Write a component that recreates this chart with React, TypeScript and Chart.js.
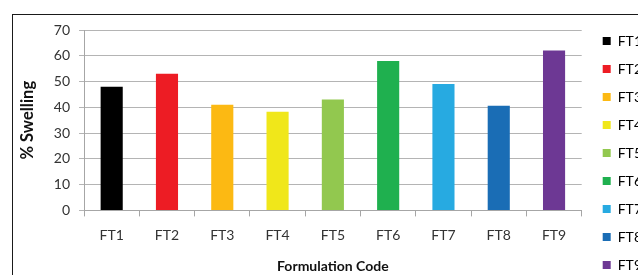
import { useEffect, useRef } from "react";
import { Chart, registerables } from "chart.js";

Chart.register(...registerables);

const categories = ["FT1", "FT2", "FT3", "FT4", "FT5", "FT6", "FT7", "FT8", "FT9"];
const swelling = [48, 53, 41, 38.3, 43, 58, 49, 40.6, 62];
const barColors = ["#000000", "#ed1c24", "#fcb913", "#f0e71a", "#92c84f", "#1fb04f", "#27aae1", "#1a6db5", "#6d3894"];
const yMin = 0;
const yMax = 70;
const yStep = 10;
const yAxisTitle = "% Swelling";
const xAxisTitle = "Formulation Code";

const FONT = "Lato, 'Noto Sans', sans-serif";

export default function App() {
  const ref = useRef<HTMLCanvasElement | null>(null);

  useEffect(() => {
    if (!ref.current) return;
    const chart = new Chart(ref.current, {
      type: "bar",
      data: {
        labels: categories,
        datasets: [
          {
            data: swelling,
            backgroundColor: barColors,
            borderWidth: 0,
            barPercentage: 0.4,
            categoryPercentage: 1,
          },
        ],
      },
      options: {
        responsive: false,
        animation: false,
        devicePixelRatio: 1,
        layout: { padding: { left: 18, top: 20, right: 0, bottom: 0 } },
        plugins: {
          tooltip: { enabled: false },
          legend: {
            display: true,
            position: "right",
            align: "start",
            labels: {
              boxWidth: 8,
              boxHeight: 8,
              padding: 14,
              color: "#222",
              font: { family: FONT, size: 14 },
              generateLabels: () =>
                categories.map((c, i) => ({
                  text: c,
                  fillStyle: barColors[i],
                  strokeStyle: barColors[i],
                  lineWidth: 0,
                  hidden: false,
                  index: i,
                  datasetIndex: 0,
                })),
            },
          },
        },
        scales: {
          x: {
            offset: true,
            grid: {
              display: true,
              drawOnChartArea: false,
              drawTicks: true,
              tickLength: 6,
              offset: true,
              color: "#a6a6a6",
            },
            border: { display: true, color: "#a6a6a6" },
            ticks: {
              color: "#333",
              padding: 11,
              font: { family: FONT, size: 14 },
            },
            title: {
              display: true,
              text: xAxisTitle,
              color: "#111",
              padding: { top: 3, bottom: 20 },
              font: { family: FONT, size: 14, weight: "bold" },
            },
          },
          topSpacer: {
            type: "category",
            position: "top",
            display: true,
            grid: { display: false },
            border: { display: false },
            ticks: { display: false },
            afterFit: (s: any) => {
              s.height = 10;
            },
          },
          y: {
            min: yMin,
            max: yMax,
            ticks: {
              stepSize: yStep,
              color: "#333",
              padding: 9,
              font: { family: FONT, size: 14 },
            },
            grid: { color: "#b4b4b4", tickLength: 5 },
            border: { display: true, color: "#a6a6a6" },
            title: {
              display: true,
              text: yAxisTitle,
              color: "#111",
              padding: { top: 0, bottom: 7 },
              font: { family: FONT, size: 16.5, weight: "bold" },
            },
          },
          rightSpacer: {
            type: "linear",
            position: "right",
            display: true,
            grid: { display: false },
            border: { display: false },
            ticks: { display: false },
            afterFit: (s: any) => {
              s.width = 7;
            },
          },
        },
      },
    } as any);
    return () => chart.destroy();
  }, []);

  return (
    <div
      style={{
        position: "fixed",
        left: 0,
        top: 0,
        width: 638,
        height: 275,
        overflow: "hidden",
        background: "#fff",
      }}
    >
      <div
        style={{
          position: "absolute",
          left: 12,
          top: 14,
          width: 700,
          height: 400,
          border: "1px solid #1a1a1a",
          boxSizing: "border-box",
        }}
      />
      <canvas
        ref={ref}
        width={652}
        height={295}
        style={{ position: "absolute", left: 0, top: 0, width: 652, height: 295 }}
      />
    </div>
  );
}
